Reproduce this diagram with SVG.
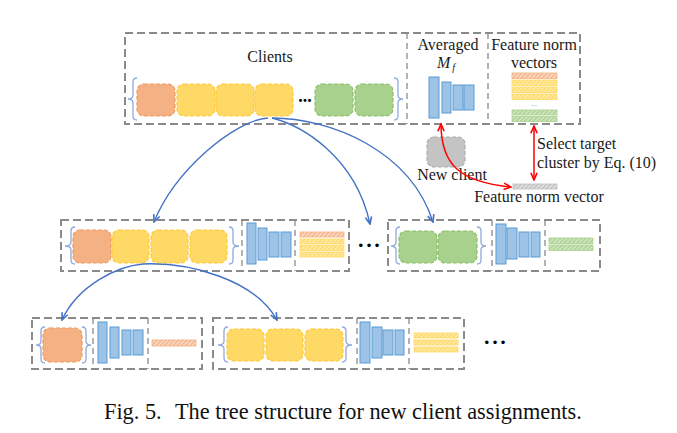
<svg xmlns="http://www.w3.org/2000/svg" width="677" height="433" viewBox="0 0 677 433">
<style>
.box{fill:none;stroke:#8a8a8a;stroke-width:2;stroke-dasharray:8 4}
.div{stroke:#8a8a8a;stroke-width:1.3;stroke-dasharray:6 4}
.or{fill:#F4B183;stroke:#F09A5E;stroke-width:1.2;stroke-dasharray:4 2}
.ye{fill:#FFD966;stroke:#FFC937;stroke-width:1.2;stroke-dasharray:4 2}
.gr{fill:#A9D18E;stroke:#8CC068;stroke-width:1.2;stroke-dasharray:4 2}
.nc{fill:#C4C4C4;stroke:#ADADAD;stroke-width:1.2;stroke-dasharray:4 2}
.br{fill:none;stroke:#8FAADC;stroke-width:1.3}
.bar{fill:#9DC3E6;stroke:#5B9BD5;stroke-width:1}
.ho{fill:url(#po);stroke:#F4B183;stroke-width:0.8}
.hy{fill:url(#py);stroke:#FFD966;stroke-width:0.8}
.hg{fill:url(#pg);stroke:#A9D18E;stroke-width:0.8}
.hgr{fill:url(#pgr);stroke:#BFBFBF;stroke-width:0.8}
.t{font-family:"Liberation Serif",serif;font-size:16px;fill:#1a1a1a}
.blue{fill:none;stroke:#4472C4;stroke-width:1.4;marker-end:url(#mb)}
.red{fill:none;stroke:#FF0000;stroke-width:1.5;marker-start:url(#mr);marker-end:url(#mr)}
.dots{font-family:"Liberation Sans",sans-serif;font-size:13px;fill:#000}
</style>
<defs>
<pattern id="po" patternUnits="userSpaceOnUse" width="3" height="3" patternTransform="rotate(45)"><rect width="3" height="3" fill="#FBE0CF"/><rect width="1.5" height="3" fill="#F4B183"/></pattern>
<pattern id="py" patternUnits="userSpaceOnUse" width="3" height="3" patternTransform="rotate(45)"><rect width="3" height="3" fill="#FFEDB0"/><rect width="1.5" height="3" fill="#FFD966"/></pattern>
<pattern id="pg" patternUnits="userSpaceOnUse" width="3" height="3" patternTransform="rotate(45)"><rect width="3" height="3" fill="#D5E8C8"/><rect width="1.5" height="3" fill="#A9D18E"/></pattern>
<pattern id="pgr" patternUnits="userSpaceOnUse" width="3" height="3" patternTransform="rotate(45)"><rect width="3" height="3" fill="#E6E6E6"/><rect width="1.5" height="3" fill="#BFBFBF"/></pattern>
<marker id="mb" viewBox="0 0 10 10" refX="9" refY="5" markerUnits="userSpaceOnUse" markerWidth="9" markerHeight="9" orient="auto-start-reverse"><path d="M1,1.5 L9,5 L1,8.5" fill="none" stroke="#4472C4" stroke-width="1.8"/></marker>
<marker id="mr" viewBox="0 0 10 10" refX="9" refY="5" markerUnits="userSpaceOnUse" markerWidth="9" markerHeight="9" orient="auto-start-reverse"><path d="M1,1.5 L9,5 L1,8.5" fill="none" stroke="#FF0000" stroke-width="1.8"/></marker>
</defs>
<rect width="677" height="433" fill="#fff"/>

<g id="root-node">
<rect class="box" x="125" y="33" width="455" height="91"/>
<line class="div" x1="407" y1="33" x2="407" y2="124"/>
<line class="div" x1="488" y1="33" x2="488" y2="124"/>
<text class="t" x="270" y="62" text-anchor="middle">Clients</text>
<path class="br" d="M137,78 Q133,78 133,82 L133,95 Q133,99 128,99 Q133,99 133,103 L133,116 Q133,120 137,120"/>
<path class="br" d="M394,78 Q398,78 398,82 L398,95 Q398,99 403,99 Q398,99 398,103 L398,116 Q398,120 394,120"/>
<rect class="or" x="137" y="84" width="38" height="32" rx="7"/>
<rect class="ye" x="177" y="84" width="38" height="32" rx="7"/>
<rect class="ye" x="216" y="84" width="38" height="32" rx="7"/>
<rect class="ye" x="255" y="84" width="38" height="32" rx="7"/>
<text x="305" y="102" text-anchor="middle" font-family="Liberation Serif,serif" font-size="18" font-weight="bold">...</text>
<rect class="gr" x="315" y="84" width="38" height="32" rx="7"/>
<rect class="gr" x="355" y="84" width="38" height="32" rx="7"/>
<text class="t" x="448" y="50" text-anchor="middle">Averaged</text>
<text class="t" x="446" y="68" text-anchor="middle" font-style="italic">M<tspan font-size="10" dx="2" dy="3">f</tspan></text>
<rect class="bar" x="429" y="77" width="10" height="41"/>
<rect class="bar" x="442" y="82" width="9" height="31"/>
<rect class="bar" x="453" y="85" width="10" height="25"/>
<rect class="bar" x="464" y="85" width="10" height="25"/>
<text class="t" x="534" y="50" text-anchor="middle">Feature norm</text>
<text class="t" x="534" y="68" text-anchor="middle">vectors</text>
<rect class="ho" x="512" y="73" width="45" height="5.5"/>
<rect class="hy" x="512" y="80" width="45" height="5.5"/>
<rect class="hy" x="512" y="87" width="45" height="5.5"/>
<rect class="hy" x="512" y="94" width="45" height="5.5"/>
<text x="534" y="106" text-anchor="middle" font-family="Liberation Sans,sans-serif" font-size="7" fill="#777">...</text>
<rect class="hg" x="512" y="110" width="45" height="5"/>
<rect class="hg" x="512" y="116.5" width="45" height="5"/>
</g>

<g id="new-client">
<rect class="nc" x="427" y="137" width="38" height="30" rx="7"/>
<text class="t" x="452" y="180" text-anchor="middle">New client</text>
</g>

<g id="feature-norm-vector">
<rect class="hgr" x="513" y="184" width="44" height="5"/>
<text class="t" x="539" y="202" text-anchor="middle">Feature norm vector</text>
</g>

<g id="select-label">
<text class="t" x="537" y="149">Select target</text>
<text class="t" x="537" y="168">cluster by Eq. (10)</text>
</g>

<g id="mid-left-node">
<rect class="box" x="61" y="220" width="288" height="51"/>
<line class="div" x1="242" y1="220" x2="242" y2="271"/>
<line class="div" x1="295" y1="220" x2="295" y2="271"/>
<path class="br" d="M75,227 Q71,227 71,231 L71,242 Q71,246 65,246 Q71,246 71,250 L71,260 Q71,264 75,264"/>
<path class="br" d="M229,227 Q233,227 233,231 L233,242 Q233,246 239,246 Q233,246 233,250 L233,260 Q233,264 229,264"/>
<rect class="or" x="73" y="230" width="38" height="33" rx="7"/>
<rect class="ye" x="112" y="230" width="37" height="33" rx="7"/>
<rect class="ye" x="151" y="230" width="37" height="33" rx="7"/>
<rect class="ye" x="190" y="230" width="37" height="33" rx="7"/>
<rect class="bar" x="247" y="223" width="9" height="41"/>
<rect class="bar" x="258" y="228" width="9" height="32"/>
<rect class="bar" x="269" y="232" width="10" height="25"/>
<rect class="bar" x="281" y="232" width="10" height="25"/>
<rect class="ho" x="300" y="232" width="44" height="5"/>
<rect class="hy" x="300" y="239" width="44" height="5"/>
<rect class="hy" x="300" y="245.5" width="44" height="5"/>
<rect class="hy" x="300" y="252" width="44" height="5"/>
</g>

<text class="dots" x="369" y="250" text-anchor="middle">• • •</text>

<g id="mid-right-node">
<rect class="box" x="388" y="220" width="212" height="51"/>
<line class="div" x1="492" y1="220" x2="492" y2="271"/>
<line class="div" x1="545" y1="220" x2="545" y2="271"/>
<path class="br" d="M400,227 Q396,227 396,231 L396,242 Q396,246 391,246 Q396,246 396,250 L396,260 Q396,264 400,264"/>
<path class="br" d="M477,227 Q481,227 481,231 L481,242 Q481,246 486,246 Q481,246 481,250 L481,260 Q481,264 477,264"/>
<rect class="gr" x="399" y="231" width="38" height="32" rx="7"/>
<rect class="gr" x="438" y="231" width="39" height="32" rx="7"/>
<rect class="bar" x="496" y="224" width="10" height="40"/>
<rect class="bar" x="507" y="228" width="10" height="31"/>
<rect class="bar" x="519" y="232" width="10" height="25"/>
<rect class="bar" x="531" y="232" width="9" height="25"/>
<rect class="hg" x="549" y="238" width="44" height="5.5"/>
<rect class="hg" x="549" y="245" width="44" height="5.5"/>
</g>

<g id="bottom-left-node">
<rect class="box" x="32" y="318" width="170" height="51"/>
<line class="div" x1="93" y1="318" x2="93" y2="369"/>
<line class="div" x1="148" y1="318" x2="148" y2="369"/>
<path class="br" d="M45,327 Q41,327 41,331 L41,341 Q41,345 36,345 Q41,345 41,349 L41,359 Q41,363 45,363"/>
<path class="br" d="M82,327 Q86,327 86,331 L86,341 Q86,345 91,345 Q86,345 86,349 L86,359 Q86,363 82,363"/>
<rect class="or" x="43" y="328" width="39" height="34" rx="7"/>
<rect class="bar" x="98" y="322" width="9" height="41"/>
<rect class="bar" x="110" y="327" width="9" height="31"/>
<rect class="bar" x="122" y="330" width="9" height="25"/>
<rect class="bar" x="133" y="330" width="10" height="25"/>
<rect class="ho" x="152" y="340" width="44" height="6"/>
</g>

<g id="bottom-mid-node">
<rect class="box" x="213" y="318" width="251" height="51"/>
<line class="div" x1="357" y1="318" x2="357" y2="369"/>
<line class="div" x1="409" y1="318" x2="409" y2="369"/>
<path class="br" d="M228,327 Q224,327 224,331 L224,341 Q224,345 218,345 Q224,345 224,349 L224,358 Q224,362 228,362"/>
<path class="br" d="M342,327 Q346,327 346,331 L346,341 Q346,345 352,345 Q346,345 346,349 L346,358 Q346,362 342,362"/>
<rect class="ye" x="227" y="329" width="37" height="32" rx="7"/>
<rect class="ye" x="266" y="329" width="37" height="32" rx="7"/>
<rect class="ye" x="305" y="329" width="38" height="32" rx="7"/>
<rect class="bar" x="360" y="322" width="10" height="41"/>
<rect class="bar" x="372" y="327" width="10" height="31"/>
<rect class="bar" x="383" y="330" width="10" height="25"/>
<rect class="bar" x="395" y="330" width="9" height="25"/>
<rect class="hy" x="414" y="333" width="44" height="5"/>
<rect class="hy" x="414" y="340" width="44" height="5"/>
<rect class="hy" x="414" y="347" width="44" height="5"/>
</g>

<text class="dots" x="495" y="347" text-anchor="middle">• • •</text>

<g id="connectors">
<path class="blue" d="M268,118 C235,120 175,170 154,222"/>
<path class="blue" d="M272,118 C300,125 355,155 370,224"/>
<path class="blue" d="M272,118 C330,118 410,150 433,222"/>
<path class="blue" d="M143,264 C118,266 78,285 62,320"/>
<path class="blue" d="M143,264 C190,262 255,280 277,320"/>
<path class="red" d="M441,124 C441,165 460,182 511,187"/>
<path class="red" d="M534,126 L534,180"/>
</g>

<g id="caption">
<text x="104" y="419" font-family="Liberation Serif,serif" font-size="22.3" fill="#111">Fig. 5.</text>
<text x="175" y="419" font-family="Liberation Serif,serif" font-size="22.3" fill="#111">The tree structure for new client assignments.</text>
</g>
</svg>
